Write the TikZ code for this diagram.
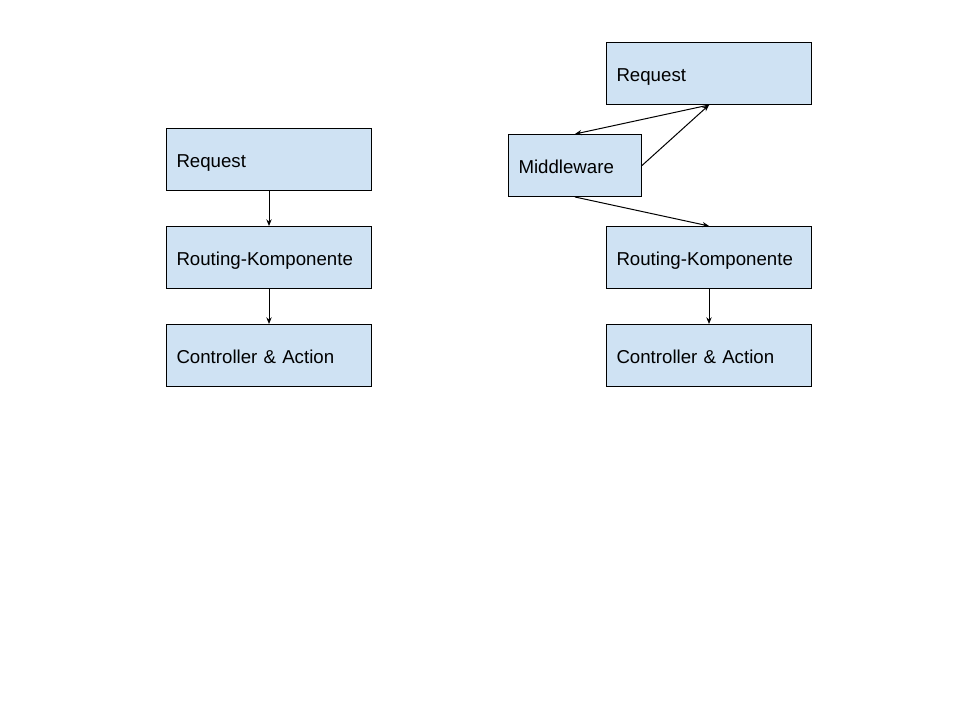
\documentclass[tikz,border=0pt]{standalone}
\usepackage{fontspec}
\setmainfont{Liberation Sans}
\usetikzlibrary{arrows.meta}
\definecolor{boxfill}{HTML}{CFE2F3}
\begin{document}
\begin{tikzpicture}[x=0.75pt,y=-0.75pt,
  box/.style={draw=black,fill=boxfill,line width=0.75pt,rectangle,
    minimum height=46.5pt,inner xsep=7.5pt,inner ysep=0pt,align=left,
    text height=12.5pt,text depth=0pt,
    font=\fontsize{14pt}{16pt}\selectfont,anchor=north west},
  wide/.style={text width=138.75pt},
  mid/.style={text width=84.75pt},
  arr/.style={line width=0.75pt,-{Stealth[length=5pt,width=4pt]}}]
\useasboundingbox[fill=white] (0,0) rectangle (960,720);
% left
\node[box,wide] (lreq) at (166,128) {Request};
\node[box,wide] (lrout) at (166,226) {Routing-Komponente};
\node[box,wide] (lctl) at (166,324) {Controller \& Action};
% right
\node[box,wide] (rreq) at (606,42) {Request};
\node[box,mid] (mw) at (508,134) {Middleware};
\node[box,wide] (rrout) at (606,226) {Routing-Komponente};
\node[box,wide] (rctl) at (606,324) {Controller \& Action};
% arrows
\draw[arr] (lreq.south) -- (lrout.north);
\draw[arr] (lrout.south) -- (lctl.north);
\draw[arr] (rrout.south) -- (rctl.north);
\draw[arr] (rreq.south) -- (mw.north);
\draw[arr] (mw.east) -- (rreq.south);
\draw[arr] (mw.south) -- (rrout.north);
\end{tikzpicture}
\end{document}
